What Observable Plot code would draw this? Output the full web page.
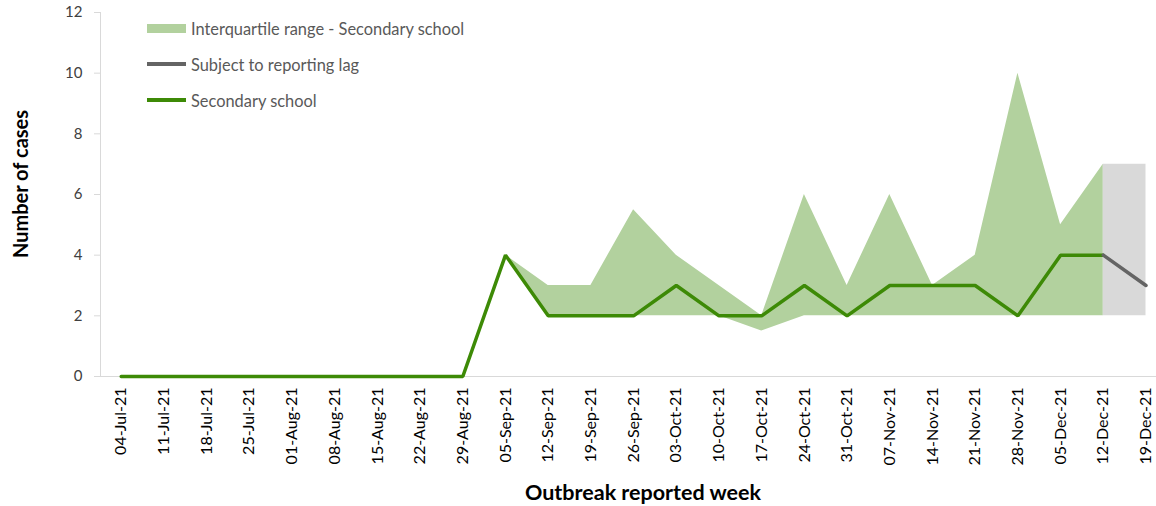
<!DOCTYPE html>
<html><head><meta charset="utf-8">
<script src="https://cdn.jsdelivr.net/npm/d3@7"></script>
<script src="https://cdn.jsdelivr.net/npm/@observablehq/plot@0.6"></script>
<style>
body{margin:0;background:#fff;font-family:Lato,"Open Sans",sans-serif;}
#wrap{position:relative;width:1156px;height:506px;}
#legend{position:absolute;left:147px;top:10px;font-size:16.4px;color:#595959;}
.item{display:flex;align-items:center;height:36px;}
.sw{width:39px;margin-right:5px;}
.box{height:9px;background:#b2d19e;}
.ln{height:3.5px;}
#xt{position:absolute;left:643px;top:492px;transform:translate(-50%,-50%);font-weight:bold;font-size:21.5px;color:#000;white-space:nowrap;}
#yt{position:absolute;left:20px;top:184px;transform:translate(-50%,-50%) rotate(-90deg);font-weight:bold;font-size:20px;color:#000;white-space:nowrap;}
</style></head>
<body><div id="wrap">
<div id="legend"></div>
<div id="xt">Outbreak reported week</div>
<div id="yt">Number of cases</div>
</div>
<script>
const weeks = ["04-Jul-21","11-Jul-21","18-Jul-21","25-Jul-21","01-Aug-21","08-Aug-21","15-Aug-21","22-Aug-21","29-Aug-21","05-Sep-21","12-Sep-21","19-Sep-21","26-Sep-21","03-Oct-21","10-Oct-21","17-Oct-21","24-Oct-21","31-Oct-21","07-Nov-21","14-Nov-21","21-Nov-21","28-Nov-21","05-Dec-21","12-Dec-21","19-Dec-21"];
const median = [0,0,0,0,0,0,0,0,0,4,2,2,2,3,2,2,3,2,3,3,3,2,4,4,3];
const iqrLow  = [null,null,null,null,null,null,null,null,null,4,2,2,2,2,2,1.5,2,2,2,2,2,2,2,2,null];
const iqrHigh = [null,null,null,null,null,null,null,null,null,4,3,3,5.5,4,3,2,6,3,6,3,4,10,5,7,null];
const lagWeeks = ["12-Dec-21","19-Dec-21"];
const lagLow = [2,2];
const lagHigh = [7,7];
const yTicks = [0,2,4,6,8,10,12];
const seriesNames = ["Interquartile range - Secondary school","Subject to reporting lag","Secondary school"];
const colors = {iqr:"#b2d19e", lagArea:"#d9d9d9", lagLine:"#646464", line:"#3d8a06"};

const lastObs = weeks.indexOf("12-Dec-21");
const mainData = weeks.map((w,i)=>({week:w, median:median[i], low:iqrLow[i], high:iqrHigh[i]}));
const lineData = mainData.slice(0, lastObs+1);
const iqrData = mainData.filter(d=>d.low!=null);
const lagArea = lagWeeks.map((w,i)=>({week:w, low:lagLow[i], high:lagHigh[i]}));
const lagLine = lagWeeks.map(w=>({week:w, median:median[weeks.indexOf(w)]}));

const chart = Plot.plot({
  width:1156, height:506, marginLeft:100, marginRight:0, marginTop:12, marginBottom:130,
  style:{fontFamily:"Lato, 'Open Sans', sans-serif", color:"#595959", background:"white", overflow:"visible"},
  x:{type:"point", domain:weeks, range:[120.7,1145.5], padding:0, round:false, label:null},
  y:{domain:[0,12], label:null},
  marks:[
    Plot.areaY(iqrData,{x:"week", y1:"low", y2:"high", fill:colors.iqr}),
    Plot.areaY(lagArea,{x:"week", y1:"low", y2:"high", fill:colors.lagArea}),
    Plot.ruleY([0],{stroke:"#d9d9d9", strokeWidth:1}),
    Plot.frame({anchor:"left", stroke:"#d9d9d9"}),
    Plot.line(lineData,{x:"week", y:"median", stroke:colors.line, strokeWidth:3.5, strokeLinejoin:"miter"}),
    Plot.line(lagLine,{x:"week", y:"median", stroke:colors.lagLine, strokeWidth:3.5}),
    Plot.axisY({ticks:yTicks, tickSize:6, tickPadding:12, stroke:"#d9d9d9", fill:"#404040", fontSize:15, label:null}),
    Plot.axisX({tickRotate:-90, tickSize:0, tickPadding:11, fill:"#000", fontSize:16, label:null})
  ]
});
document.getElementById("wrap").prepend(chart);

const leg = document.getElementById("legend");
const swatches = [`<div class="sw box"></div>`,`<div class="sw ln" style="background:${colors.lagLine}"></div>`,`<div class="sw ln" style="background:${colors.line}"></div>`];
seriesNames.forEach((n,i)=>{
  const d=document.createElement("div"); d.className="item";
  d.innerHTML = swatches[i] + `<span>${n}</span>`;
  leg.appendChild(d);
});
</script>
</body></html>
